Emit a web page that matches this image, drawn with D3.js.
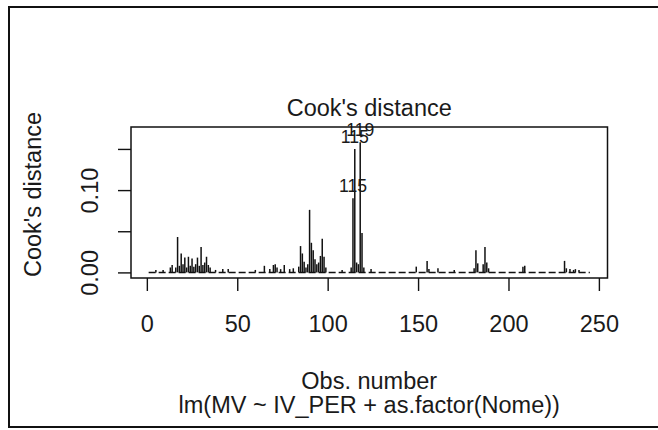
<!DOCTYPE html>
<html>
  <head>
    <meta charset="utf-8">
    <title>Cook's distance</title>
    <script src="https://d3js.org/d3.v7.min.js"></script>
    <style>
      body { margin: 0; background: #fff; }
      text { font-family: "Liberation Sans", Arial, sans-serif; fill: #1a1a1a; }
    </style>
  </head>
  <body>
    <div id="chart"></div>
    <script>
      const nObs = 245;
      const cookObs = [5, 9, 13, 14, 16, 17, 18, 19, 20, 21, 22, 23, 24, 25, 26, 27, 28, 29, 30, 31, 32, 33, 34, 35,
        38, 42, 45, 60, 65, 68, 70, 71, 72, 74, 76, 79, 81, 84, 85, 86, 87, 88, 89, 90, 91, 92, 93, 94, 95, 96,
        97, 98, 99, 108, 113, 114, 115, 116, 117, 118, 119, 120, 124, 149, 155, 156, 161, 170, 181, 182, 183,
        186, 187, 188, 189, 208, 209, 231, 232, 234, 236, 237, 239];
      const cookValues = [0.003, 0.003, 0.006, 0.009, 0.006, 0.043, 0.008, 0.023, 0.010, 0.018, 0.006, 0.019, 0.008,
        0.017, 0.007, 0.010, 0.018, 0.008, 0.031, 0.009, 0.012, 0.019, 0.009, 0.006,
        0.003, 0.004, 0.004, 0.003, 0.008, 0.004, 0.009, 0.010, 0.006, 0.004, 0.009, 0.004, 0.005, 0.007, 0.032,
        0.023, 0.013, 0.006, 0.010, 0.076, 0.036, 0.027, 0.016, 0.010, 0.012, 0.020,
        0.041, 0.019, 0.006, 0.003, 0.006, 0.090, 0.150, 0.012, 0.010, 0.158, 0.048, 0.006, 0.004, 0.007, 0.014,
        0.004, 0.005, 0.003, 0.005, 0.027, 0.011,
        0.010, 0.031, 0.012, 0.005, 0.007, 0.008, 0.014, 0.005, 0.004, 0.003, 0.004, 0.003];
      const labelObs = [114, 115, 118];
      const labelText = ["115", "115", "119"];
      const xTicks = [0, 50, 100, 150, 200, 250];
      const yTicks = [0, 0.05, 0.10, 0.15];
      const yTickLabels = ["0.00", "", "0.10", ""];

      const W = 658, H = 430;
      const box = {left: 131, right: 607.5, top: 127, bottom: 278};
      const fontSize = 23.5;

      const svg = d3.select("#chart").append("svg")
          .attr("width", W)
          .attr("height", H);

      svg.append("rect")
          .attr("x", 9).attr("y", 7)
          .attr("width", W + 10).attr("height", 420)
          .attr("fill", "none")
          .attr("stroke", "#111")
          .attr("stroke-width", 2);

      // R style 4% padding on both axes
      const xPad = 0.04 * (nObs - 1);
      const x = d3.scaleLinear()
          .domain([1 - xPad, nObs + xPad])
          .range([box.left, box.right]);
      const yTop = d3.max(cookValues) * 1.075;
      const y = d3.scaleLinear()
          .domain([-0.04 * yTop, yTop * 1.04])
          .range([box.bottom, box.top]);

      svg.append("line")
          .attr("x1", x(1)).attr("x2", x(nObs))
          .attr("y1", y(0)).attr("y2", y(0))
          .attr("stroke", "#111")
          .attr("stroke-width", 1.5)
          .attr("stroke-dasharray", "7,3");

      svg.append("g").selectAll("line")
          .data(cookObs)
          .join("line")
          .attr("x1", d => x(d)).attr("x2", d => x(d))
          .attr("y1", y(0))
          .attr("y2", (d, i) => y(cookValues[i]))
          .attr("stroke", "#111")
          .attr("stroke-width", 1.5);

      svg.append("g").selectAll("text")
          .data(labelObs)
          .join("text")
          .attr("x", d => x(d))
          .attr("y", d => y(cookValues[cookObs.indexOf(d)]) - 6)
          .attr("text-anchor", "middle")
          .style("font-size", (fontSize * 0.75) + "px")
          .text((d, i) => labelText[i]);

      svg.append("rect")
          .attr("x", box.left).attr("y", box.top)
          .attr("width", box.right - box.left)
          .attr("height", box.bottom - box.top)
          .attr("fill", "none")
          .attr("stroke", "#111")
          .attr("stroke-width", 1.5);

      const xAxis = svg.append("g")
          .attr("transform", `translate(0,${box.bottom})`)
          .call(d3.axisBottom(x).tickValues(xTicks).tickSize(13).tickFormat(d3.format("d")));
      xAxis.select(".domain").remove();
      xAxis.selectAll("line").attr("stroke", "#111").attr("stroke-width", 1.4);
      xAxis.selectAll("text")
          .attr("y", 54).attr("dy", null)
          .attr("fill", "#1a1a1a")
          .style("font-size", fontSize + "px")
          .style("font-family", "Liberation Sans, Arial, sans-serif");

      const yAxis = svg.append("g")
          .attr("transform", `translate(${box.left},0)`)
          .call(d3.axisLeft(y).tickValues(yTicks).tickSize(13).tickFormat((d, i) => yTickLabels[i]));
      yAxis.select(".domain").remove();
      yAxis.selectAll("line").attr("stroke", "#111").attr("stroke-width", 1.4);
      yAxis.selectAll("text")
          .attr("x", null).attr("dy", null)
          .attr("text-anchor", "middle")
          .attr("transform", "translate(-33,0) rotate(-90)")
          .attr("fill", "#1a1a1a")
          .style("font-size", fontSize + "px")
          .style("font-family", "Liberation Sans, Arial, sans-serif");

      const midX = (box.left + box.right) / 2;
      svg.append("text")
          .attr("x", midX).attr("y", 116)
          .attr("text-anchor", "middle")
          .style("font-size", fontSize + "px")
          .text("Cook's distance");

      svg.append("text")
          .attr("transform", `translate(41,${(box.top + box.bottom) / 2 - 8}) rotate(-90)`)
          .attr("text-anchor", "middle")
          .style("font-size", fontSize + "px")
          .text("Cook's distance");

      svg.append("text")
          .attr("x", midX).attr("y", 389)
          .attr("text-anchor", "middle")
          .style("font-size", fontSize + "px")
          .text("Obs. number");

      svg.append("text")
          .attr("x", midX).attr("y", 413)
          .attr("text-anchor", "middle")
          .style("font-size", fontSize + "px")
          .text("lm(MV ~ IV_PER + as.factor(Nome))");
    </script>
  </body>
</html>
